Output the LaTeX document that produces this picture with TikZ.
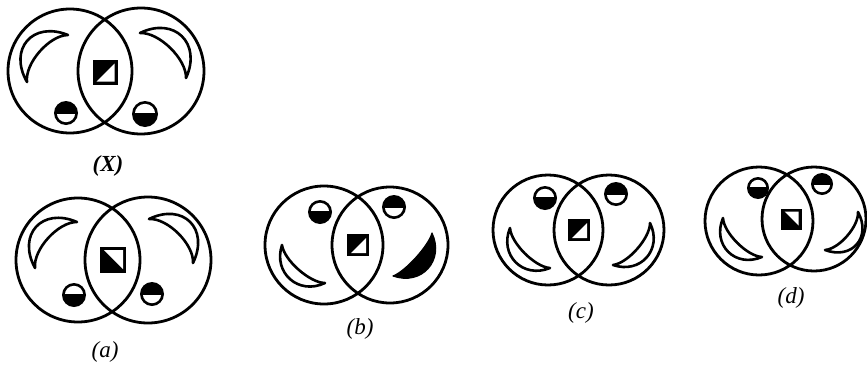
\documentclass[tikz,border=0pt]{standalone}
\usepackage{fontspec}
\setmainfont{Liberation Serif}
\usepackage{tikz}
\usetikzlibrary{calc}
\tikzset{ring/.style={draw,line width=2.8pt},
  moonw/.style={draw,line width=2.6pt,fill=white,line join=round},
  moonb/.style={draw,line width=1.2pt,fill=black,line join=round},
  lbl/.style={inner sep=0pt,font=\fontsize{23}{26}\selectfont\itshape}}
% crescent: tips #1 -> #2, outer/inner bulge #3/#4 (to the left of #1->#2), style #5
\newcommand\moon[5]{\draw[#5] (#1) .. controls ($(#1)!0.2!(#2)!#3!90:(#2)$) and ($(#1)!0.8!(#2)!#3!-90:(#1)$) .. (#2)
  .. controls ($(#1)!0.8!(#2)!#4!-90:(#1)$) and ($(#1)!0.2!(#2)!#4!90:(#2)$) .. (#1) -- cycle;}
% half black ball: centre #1, radius #2, #3=1 black on top
\newcommand\halfball[3]{\fill (#1) circle (#2pt);
  \begin{scope}\clip (#1) circle ({#2pt-2.8pt});
  \ifnum#3=1 \fill[white] ($(#1)+(-#2,1)$) rectangle ($(#1)+(#2,#2)$);
  \else \fill[white] ($(#1)+(-#2,-1)$) rectangle ($(#1)+(#2,-#2)$);\fi
  \end{scope}}
% square: centre #1, half side #2, #3=1 diagonal rising (white lower right)
\newcommand\tilebox[3]{\fill ($(#1)+(-#2,-#2)$) rectangle ($(#1)+(#2,#2)$);
  \ifnum#3=1 \fill[white] ($(#1)+(-#2+4,#2-3)$) -- ($(#1)+(#2-3,#2-3)$) -- ($(#1)+(#2-3,-#2+4)$) -- cycle;
  \else \fill[white] ($(#1)+(-#2+4,-#2+3)$) -- ($(#1)+(#2-3,-#2+3)$) -- ($(#1)+(#2-3,#2-4)$) -- cycle;\fi}

\begin{document}
\begin{tikzpicture}[x=1pt,y=-1pt]
\useasboundingbox[fill=white] (0,0) rectangle (867,367);
% pairs of circles
\foreach \xa/\ya/\ra/\xb/\yb/\rb in {70/71/62/141/71/63, 78/260/62/148/260/63, 324/245/59/390/245/58,
  548/230/55/609/230/55, 759/221/54/814/219/52}
  \draw[ring] (\xa,\ya) circle (\ra pt) (\xb,\yb) circle (\rb pt);
% (X)
\moon{27,82}{68,35}{36pt}{14pt}{moonw}
\moon{140,33}{186,78}{36pt}{14pt}{moonw}
\tilebox{105,72}{12.5}{1}
\halfball{66,113}{12}{1} \halfball{145,114}{13}{0}
% (a)
\moon{35,268}{77,222}{36pt}{14pt}{moonw}
\moon{149,219}{193,263}{36pt}{14pt}{moonw}
\tilebox{113,260}{13}{0}
\halfball{74,295}{12}{0} \halfball{152,294}{12}{1}
% (b)
\moon{325,283}{282,245}{27pt}{10pt}{moonw}
\moon{432,233}{393,276}{28pt}{6pt}{moonb}
\tilebox{358,245}{11}{1}
\halfball{320,212}{12}{0} \halfball{394,207}{12}{1}
% (c)
\moon{550,268}{510,228}{27pt}{10pt}{moonw}
\moon{650,223}{613,265}{27pt}{10pt}{moonw}
\tilebox{579,230}{11}{1}
\halfball{545,198}{12}{0} \halfball{616,194}{12}{1}
% (d)
\moon{762,257}{723,218}{27pt}{10pt}{moonw}
\moon{858,212}{825,250}{27pt}{10pt}{moonw}
\tilebox{791,219}{10.5}{0}
\halfball{758,188}{11}{0} \halfball{822,184}{11}{1}
% labels
\node[lbl,font=\fontsize{23}{26}\selectfont\bfseries\itshape] (lX) at (108,166) {(X)};
\node[lbl] (la) at (105,352) {(a)};
\node[lbl] (lb) at (360,329) {(b)};
\node[lbl] (lc) at (581,313) {(c)};
\node[lbl] (ld) at (791,298) {(d)};
\end{tikzpicture}
\end{document}
